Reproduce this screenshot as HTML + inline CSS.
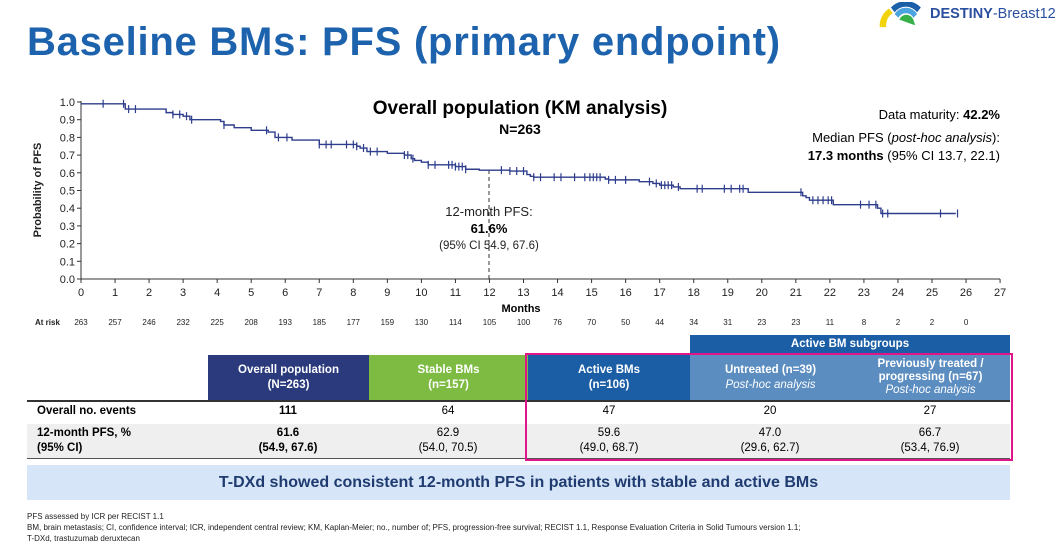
<!DOCTYPE html>
<html><head><meta charset="utf-8"><style>
body{margin:0;width:1057px;height:544px;background:#fff;font-family:"Liberation Sans",Arial,sans-serif;position:relative;overflow:hidden}
.a{position:absolute;white-space:nowrap}
.c{position:absolute;text-align:center;color:#fff;font-size:11.5px;line-height:15px;display:flex;flex-direction:column;justify-content:center;align-items:center}
.v{position:absolute;text-align:center;font-size:11.5px;width:160px}
</style></head><body>
<div class="a" style="left:27px;top:20px;font-size:40px;font-weight:bold;color:#1d62ac;letter-spacing:0.75px">Baseline BMs: PFS (primary endpoint)</div>
<svg class="a" style="left:876px;top:2px" width="56" height="26" viewBox="0 0 60 26">
<path d="M4 26 A22 22 0 0 1 14 6 L18 11 A15 15 0 0 0 11 26Z" fill="#f2d40c"/>
<path d="M16 5 A22 22 0 0 1 48 5 L44 10 A15 15 0 0 0 20 10Z" fill="#1b5fa8"/>
<path d="M20 12 A14 14 0 0 1 44 12 L40 16 A9 9 0 0 0 24 16Z" fill="#4ba3df"/>
<path d="M25 18 A8 8 0 0 1 40 18 L42 24 L36 22Z" fill="#37b04a"/>
</svg>
<div class="a" style="left:930px;top:6px;font-size:14.5px;color:#2a4f9e"><b>DESTINY</b>-Breast12</div>

<svg class="a" style="left:0;top:0" width="1057" height="330" id="km">
<g font-size="11" fill="#222" text-anchor="end" id="yt"></g>
<text transform="translate(41,190) rotate(-90)" text-anchor="middle" font-size="11" font-weight="bold" fill="#222">Probability of PFS</text>
<line x1="81" y1="101" x2="81" y2="279" stroke="#333"/>
<line x1="81" y1="279" x2="1000" y2="279" stroke="#333"/>
<g id="xt" font-size="11" fill="#222" text-anchor="middle"></g>
<text x="521" y="312" text-anchor="middle" font-size="11" font-weight="bold">Months</text>
<g id="ar" font-size="8" fill="#222" text-anchor="middle"><text x="35" y="325" font-weight="bold" text-anchor="start">At risk</text></g>
<line x1="489" y1="170" x2="489" y2="279" stroke="#333" stroke-dasharray="4,3"/>
<path id="curve" fill="none" stroke="#2e3d8c" stroke-width="1.4"/>
<g id="cens" stroke="#2e3d8c" stroke-width="1.2"></g>
<text x="520" y="114" text-anchor="middle" font-size="19" font-weight="bold">Overall population (KM analysis)</text>
<text x="520" y="134" text-anchor="middle" font-size="14" font-weight="bold">N=263</text>
<text x="1000" y="119" text-anchor="end" font-size="13">Data maturity: <tspan font-weight="bold">42.2%</tspan></text>
<text x="1000" y="142" text-anchor="end" font-size="13">Median PFS (<tspan font-style="italic">post-hoc analysis</tspan>):</text>
<text x="1000" y="160" text-anchor="end" font-size="13"><tspan font-weight="bold">17.3 months</tspan> (95% CI 13.7, 22.1)</text>
<text x="489" y="216" text-anchor="middle" font-size="13" fill="#222">12-month PFS:</text>
<text x="489" y="233" text-anchor="middle" font-size="13" font-weight="bold">61.6%</text>
<text x="489" y="249" text-anchor="middle" font-size="11.5" fill="#222">(95% CI 54.9, 67.6)</text>
</svg>
<script>
var X=m=>81+m*34.04, Y=p=>279-p*177;
var ns="http://www.w3.org/2000/svg";
function t(g,x,y,s,a){var e=document.createElementNS(ns,"text");e.setAttribute("x",x);e.setAttribute("y",y);e.textContent=s;document.getElementById(g).appendChild(e);}
function l(g,x1,y1,x2,y2){var e=document.createElementNS(ns,"line");e.setAttribute("x1",x1);e.setAttribute("y1",y1);e.setAttribute("x2",x2);e.setAttribute("y2",y2);document.getElementById(g).appendChild(e);}
for(var i=0;i<=10;i++){t("yt",75,Y(i/10)+4,(i/10).toFixed(1));l("yt",77,Y(i/10),81,Y(i/10));}
document.querySelectorAll("#yt line").forEach(e=>e.setAttribute("stroke","#333"));
var ar=[263,257,246,232,225,208,193,185,177,159,130,114,105,100,76,70,50,44,34,31,23,23,11,8,2,2,0];
for(var i=0;i<=27;i++){t("xt",X(i),296,i);l("xt",X(i),279,X(i),283);if(i<27)t("ar",X(i),325,ar[i]);}
document.querySelectorAll("#xt line").forEach(e=>e.setAttribute("stroke","#333"));
var st=[[0,.99],[1.3,.96],[2.5,.94],[2.7,.93],[3.0,.92],[3.2,.90],[4.1,.89],[4.2,.87],[4.5,.855],[5.0,.84],[5.5,.83],[5.7,.80],[6.2,.785],[7.0,.76],[8.1,.75],[8.2,.74],[8.4,.72],[9.0,.71],[9.5,.70],[9.7,.68],[9.8,.67],[10.0,.66],[10.2,.645],[11.0,.635],[11.3,.62],[11.7,.615],[12.6,.61],[13.1,.59],[13.2,.58],[13.3,.575],[15.4,.565],[15.5,.56],[16.4,.55],[16.8,.54],[17.0,.53],[17.4,.52],[17.6,.51],[19.6,.49],[21.2,.47],[21.3,.46],[21.4,.445],[22.1,.42],[23.4,.40],[23.5,.37]];
var d="M"+X(0)+" "+Y(st[0][1]);
for(var i=1;i<st.length;i++){d+=" H"+X(st[i][0])+" V"+Y(st[i][1]);}
d+=" H"+X(25.7);document.getElementById("curve").setAttribute("d",d);
function val(m){var v=st[0][1];for(var i=0;i<st.length;i++)if(st[i][0]<=m)v=st[i][1];return v;}
var cs=[0.65,1.25,1.4,1.6,2.7,2.9,3.1,3.25,4.2,5.45,5.8,6.05,7.0,7.2,7.35,7.8,8.0,8.1,8.3,8.5,8.7,9.5,9.6,9.75,10.2,10.4,10.8,10.9,11.0,11.1,11.2,11.3,12.35,12.6,12.8,13.0,13.3,13.5,13.9,14.1,14.5,14.8,14.95,15.05,15.15,15.25,15.5,15.7,16.0,16.7,16.9,17.05,17.15,17.25,17.35,17.55,18.1,18.25,18.9,19.1,19.35,19.45,21.15,21.5,21.65,21.8,21.95,22.05,22.9,23.15,23.35,23.55,23.7,25.25,25.75];
cs.forEach(m=>{var y=Y(val(m));l("cens",X(m),y-4,X(m),y+4);});
</script>

<div class="c" style="left:690px;top:335px;width:320px;height:19px;background:#1b5ea5;font-weight:bold">Active BM subgroups</div>
<div class="c" style="left:208px;top:355px;width:161px;height:45px;background:#2a3a7c;font-weight:bold">Overall population<br>(N=263)</div>
<div class="c" style="left:369px;top:355px;width:159px;height:45px;background:#7dbb42;font-weight:bold">Stable BMs<br>(n=157)</div>
<div class="c" style="left:528px;top:355px;width:162px;height:45px;background:#1b5ea5;font-weight:bold">Active BMs<br>(n=106)</div>
<div class="c" style="left:690px;top:355px;width:161px;height:45px;background:#5b8dc0"><b>Untreated (n=39)</b><i>Post-hoc analysis</i></div>
<div class="c" style="left:851px;top:355px;width:159px;height:45px;background:#5b8dc0;line-height:13px"><b>Previously treated /<br>progressing (n=67)</b><i>Post-hoc analysis</i></div>
<div class="a" style="left:27px;top:400px;width:983px;height:2px;background:#333"></div>
<div class="a" style="left:27px;top:424px;width:983px;height:34px;background:#efefef"></div>
<div class="a" style="left:27px;top:458px;width:983px;height:1px;background:#555"></div>
<div class="a" style="left:37px;top:405px;font-size:11.5px;font-weight:bold">Overall no. events</div>
<div class="a" style="left:37px;top:426px;font-size:11.5px;font-weight:bold;line-height:15px">12-month PFS, %<br>(95% CI)</div>
<div class="v" style="left:208px;top:405px;font-weight:bold">111</div>
<div class="v" style="left:368px;top:405px">64</div>
<div class="v" style="left:529px;top:405px">47</div>
<div class="v" style="left:690px;top:405px">20</div>
<div class="v" style="left:850px;top:405px">27</div>
<div class="v" style="left:208px;top:426px;font-weight:bold;line-height:15px">61.6<br>(54.9, 67.6)</div>
<div class="v" style="left:368px;top:426px;line-height:15px">62.9<br>(54.0, 70.5)</div>
<div class="v" style="left:529px;top:426px;line-height:15px">59.6<br>(49.0, 68.7)</div>
<div class="v" style="left:690px;top:426px;line-height:15px">47.0<br>(29.6, 62.7)</div>
<div class="v" style="left:850px;top:426px;line-height:15px">66.7<br>(53.4, 76.9)</div>
<div class="a" style="left:525px;top:353px;width:484px;height:104px;border:2px solid #e0158a"></div>
<div class="a" style="left:27px;top:465px;width:983px;height:35px;background:#d6e6f8;text-align:center;line-height:35px;font-size:16px;font-weight:bold;color:#1f3b70">T-DXd showed consistent 12-month PFS in patients with stable and active BMs</div>
<div class="a" style="left:27px;top:511px;font-size:8px;line-height:11px;color:#222">PFS assessed by ICR per RECIST 1.1<br>BM, brain metastasis; CI, confidence interval; ICR, independent central review; KM, Kaplan-Meier; no., number of; PFS, progression-free survival; RECIST 1.1, Response Evaluation Criteria in Solid Tumours version 1.1;<br>T-DXd, trastuzumab deruxtecan</div>
</body></html>
